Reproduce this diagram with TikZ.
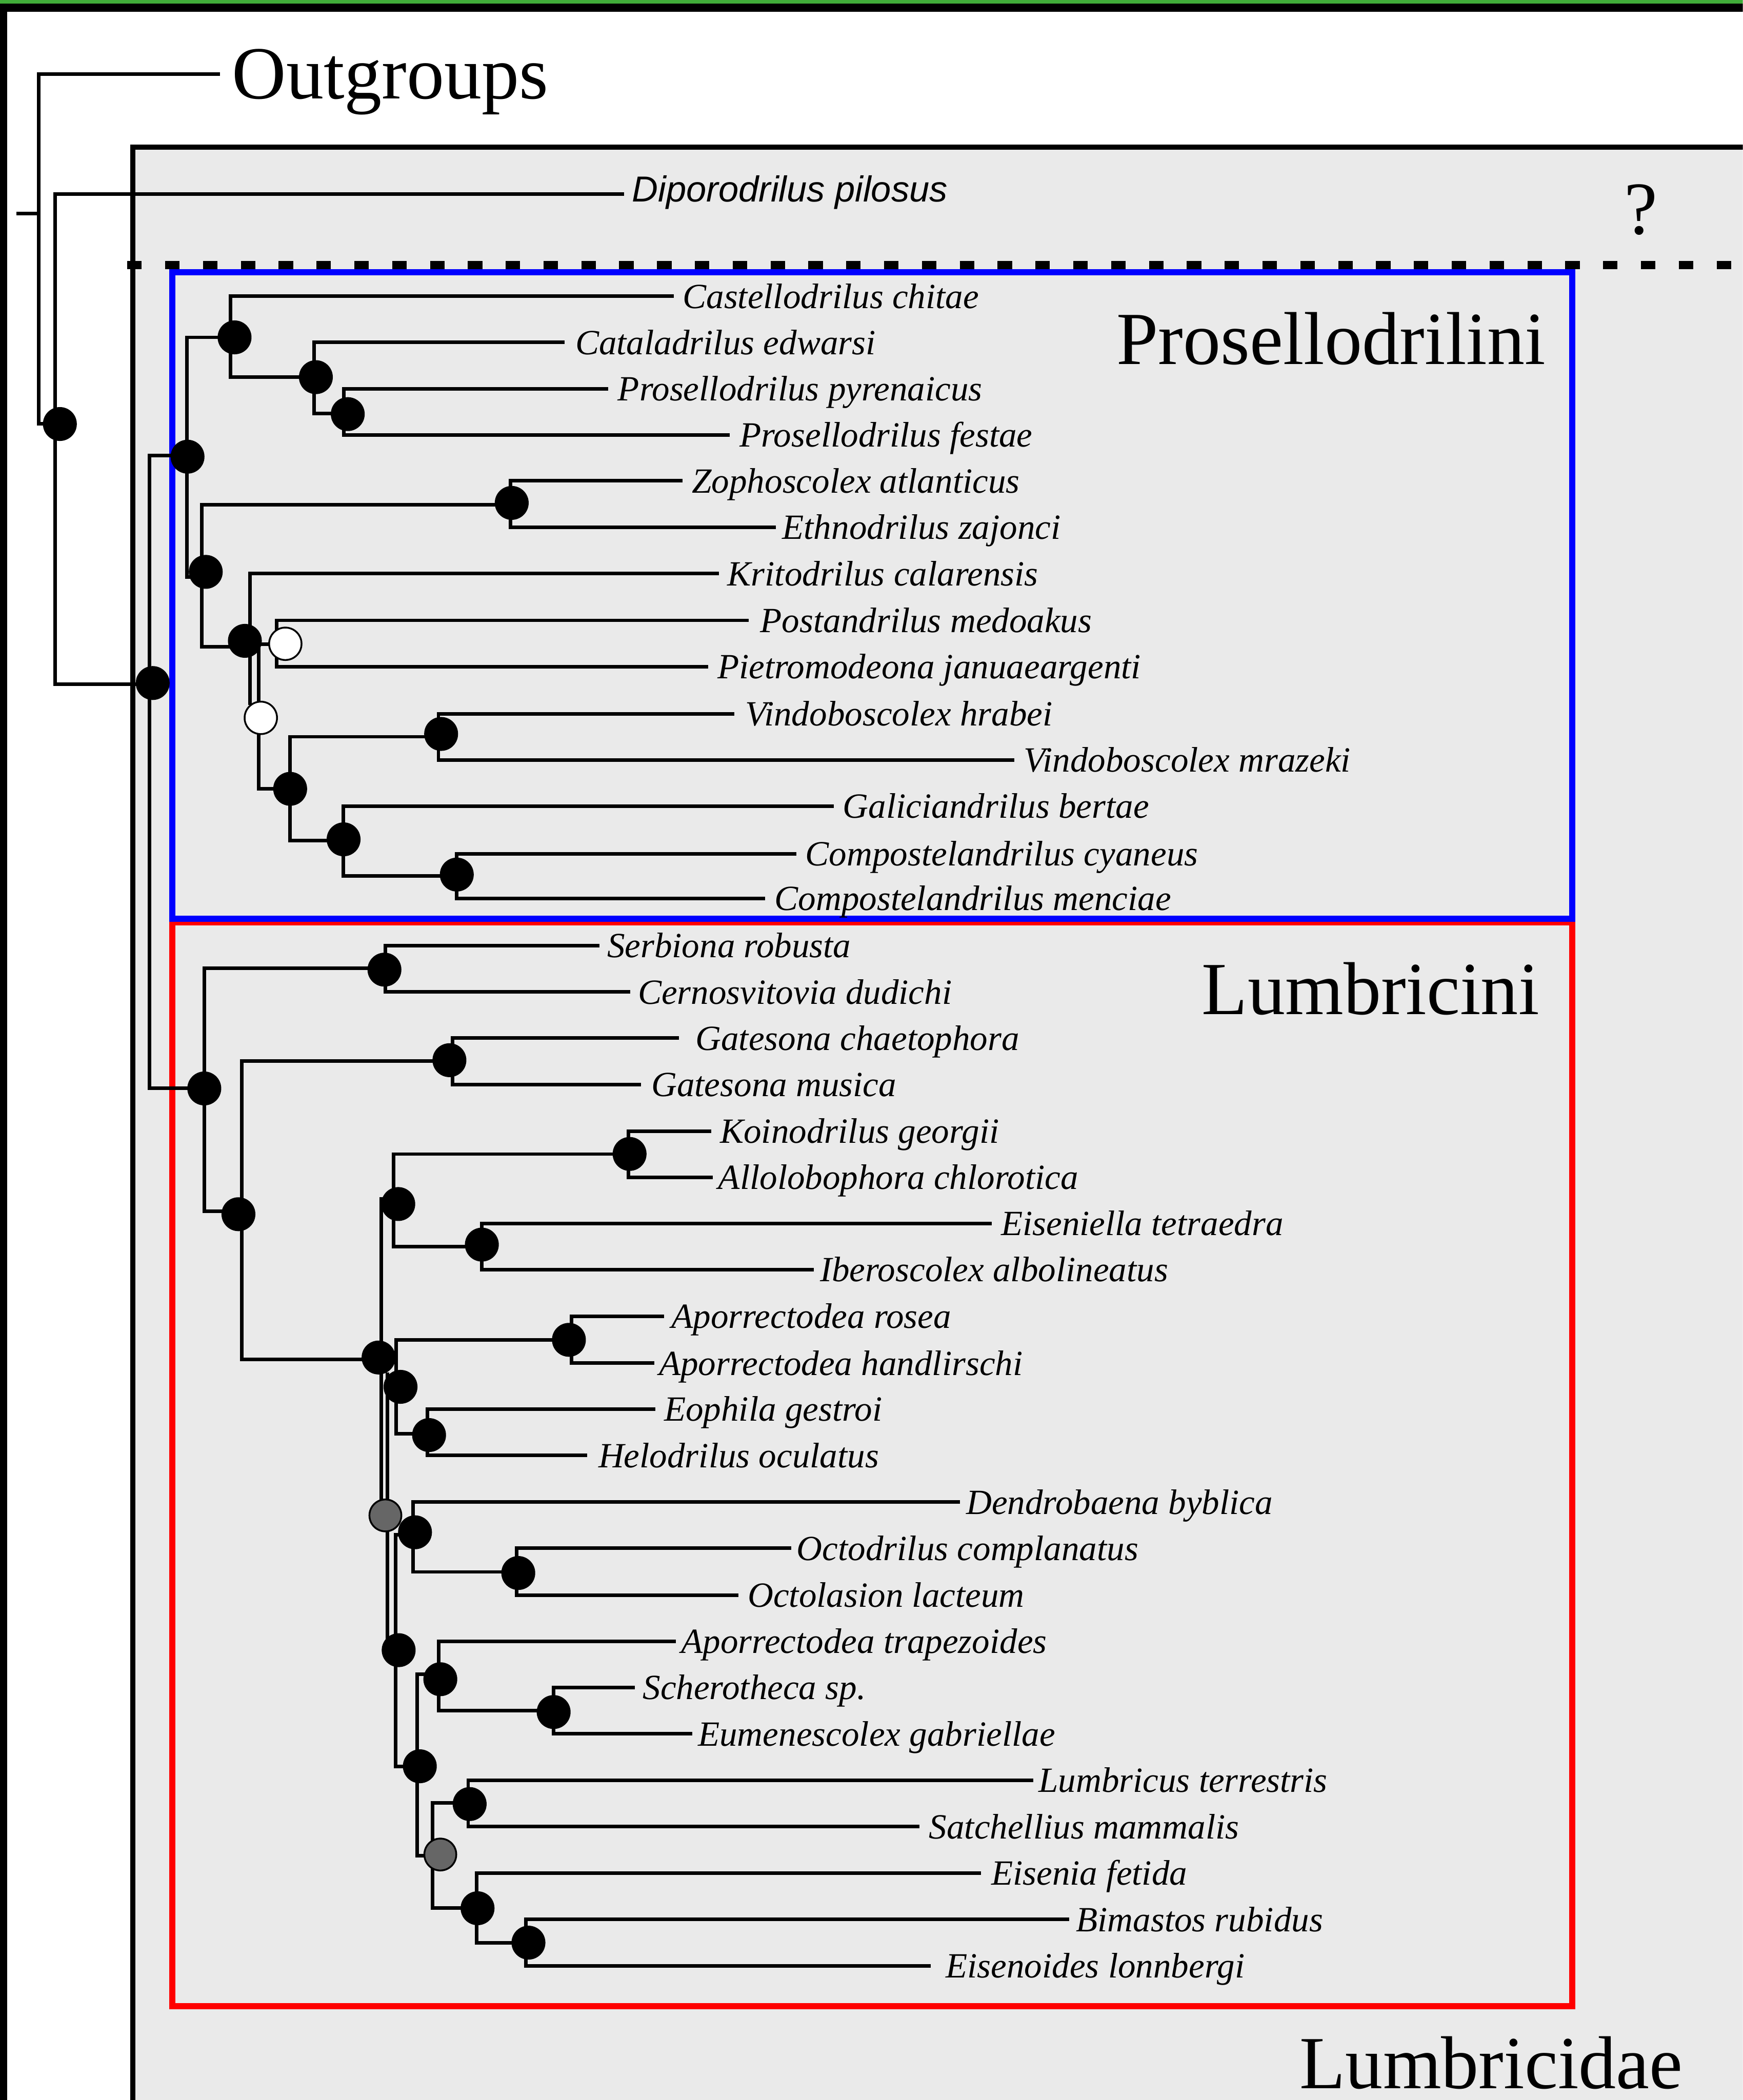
\documentclass[tikz,border=0pt]{standalone}
\usepackage{fontspec}
\setmainfont{Liberation Serif}
\newfontfamily\sansfam{Liberation Sans}
\definecolor{bgray}{RGB}{234,234,234}
\definecolor{topgreen}{RGB}{65,173,58}
\definecolor{dotgray}{RGB}{102,102,102}
\newcommand\lf[6]{%
  \coordinate (#1a) at (#2,#3);
  \coordinate (#1b) at (#4,#3);
  \draw[br] (#1a) -- (#1b);
  \node[lab] (#1) at (#5,#3+9) {#6};}
\begin{document}
\begin{tikzpicture}[x=0.026441cm,y=-0.026441cm,
  br/.style={line width=2pt,line cap=rect,line join=miter},
  dot/.style={circle,fill=black,inner sep=0pt,minimum size=0.669cm},
  wdot/.style={circle,fill=white,draw=black,line width=1pt,inner sep=0pt,minimum size=0.64cm},
  gdot/.style={circle,fill=dotgray,draw=black,line width=1pt,inner sep=0pt,minimum size=0.63cm},
  lab/.style={anchor=base west,inner sep=0pt,font=\fontsize{19.9}{24}\selectfont\itshape},
  ttl/.style={anchor=base west,inner sep=0pt,font=\fontsize{42.1}{50}\selectfont}]
\useasboundingbox (0,0) rectangle (1301,1568);
\begin{scope}
\clip (0,0) rectangle (1301,1568);
% frame
\fill[white] (0,0) rectangle (1301,1568);
\fill[black] (0,2.6) rectangle (1301,8.7);
\fill[black] (0,0) rectangle (5.2,1568);
\fill[topgreen] (0,0) rectangle (1301,2.6);
% Lumbricidae box
\fill[bgray] (99,110) rectangle (1320,1590);
\draw[line width=2.86pt] (99,1590) -- (99,110) -- (1320,110);
\draw[line width=4.5pt,dash pattern=on 0.2856cm off 0.4614cm] (95,197.8) -- (1320,197.8);
% tribe boxes
\draw[red,line width=3.55pt] (128.5,688.7) rectangle (1173.7,1498);
\draw[blue,line width=3.55pt] (128.5,203.3) rectangle (1173.7,686);

% ---------- titles
\node[ttl] (outg) at (173,73.8) {Outgroups};
\node[ttl] (pros) at (833.3,271.8) {Prosellodrilini};
\node[ttl] (lumbi) at (897,757.4) {Lumbricini};
\node[ttl] (lumbe) at (970,1559.5) {Lumbricidae};
\node[ttl,anchor=base] (qm) at (1224.8,174.8) {?};

% ---------- root and outgroups
\draw[br] (13.6,159.5) -- (28.8,159.5);
\draw[br] (28.8,55.4) -- (28.8,316.5) -- (44.7,316.5);
\draw[br] (28.8,55.4) -- (163,55.4);
\draw[br] (41.2,144.9) -- (41.2,511) -- (114,511);
\draw[br] (41.2,144.9) -- (464.5,144.9);
\node[anchor=base west,inner sep=0pt,font=\sansfam\itshape\fontsize{20.3}{24}\selectfont] (dip) at (471.7,150.8) {Diporodrilus pilosus};
\draw[br] (111.6,340.2) -- (111.6,812.6);
\draw[br] (111.6,340.2) -- (140,340.2);
\draw[br] (111.6,812.6) -- (152.5,812.6);

% ---------- Prosellodrilini
\draw[br] (139.6,251.9) -- (139.6,430.8);
\draw[br] (139.6,251.9) -- (175.1,251.9);
\draw[br] (139.6,430.8) -- (153.6,430.8);
\draw[br] (172.2,221.1) -- (172.2,281.6) -- (235.8,281.6);
\lf{castel}{172.2}{221.1}{501.7}{509.4}{Castellodrilus chitae}
\draw[br] (234.4,255.6) -- (234.4,308.8) -- (259.6,308.8);
\lf{catal}{234.4}{255.6}{420}{429.3}{Cataladrilus edwarsi}
\draw[br] (256.7,290.3) -- (256.7,324.7);
\lf{prpyr}{256.7}{290.3}{452.6}{461}{Prosellodrilus pyrenaicus}
\lf{prfes}{256.7}{324.7}{543.4}{551.9}{Prosellodrilus festae}
\draw[br] (150.8,376.9) -- (150.8,483) -- (182.8,483);
\draw[br] (150.8,376.9) -- (382,376.9);
\draw[br] (381,359) -- (381,393.6);
\lf{zoph}{381}{359}{508}{516.3}{Zophoscolex atlanticus}
\lf{ethn}{381}{393.6}{578}{583.7}{Ethnodrilus zajonci}
\draw[br] (186.5,428.3) -- (186.5,525);
\lf{krit}{186.5}{428.3}{535.4}{542.8}{Kritodrilus calarensis}
\draw[br] (193,480.9) -- (193,589.1) -- (216.6,589.1);
\draw[br] (193,480.9) -- (213,480.9);
\draw[br] (206.7,463.2) -- (206.7,497.8);
\lf{posta}{206.7}{463.2}{557.5}{567.3}{Postandrilus medoakus}
\lf{pietr}{206.7}{497.8}{527.5}{535.4}{Pietromodeona januaeargenti}
\draw[br] (216.6,550.1) -- (216.6,627.6) -- (256.5,627.6);
\draw[br] (216.6,550.1) -- (329.3,550.1);
\draw[br] (327.3,532.9) -- (327.3,567.4);
\lf{vhra}{327.3}{532.9}{547}{556}{Vindoboscolex hrabei}
\lf{vmra}{327.3}{567.4}{756}{764}{Vindoboscolex mrazeki}
\draw[br] (256.4,601.9) -- (256.4,654.1) -- (341,654.1);
\lf{galic}{256.4}{601.9}{621}{629}{Galiciandrilus bertae}
\draw[br] (340.9,637.4) -- (340.9,670.8);
\lf{ccya}{340.9}{637.4}{593}{601}{Compostelandrilus cyaneus}
\lf{cmen}{340.9}{670.8}{570}{578}{Compostelandrilus menciae}

% ---------- Lumbricini
\draw[br] (152.7,722.8) -- (152.7,904.4) -- (178,904.4);
\draw[br] (152.7,722.8) -- (287,722.8);
\draw[br] (287.8,706) -- (287.8,740.7);
\lf{serb}{287.8}{706}{446}{453}{Serbiona robusta}
\lf{cern}{287.8}{740.7}{469}{476}{Cernosvitovia dudichi}
\draw[br] (180.6,792.2) -- (180.6,1015) -- (282.6,1015);
\draw[br] (180.6,792.2) -- (335.5,792.2);
\draw[br] (337.7,775) -- (337.7,809.7);
\lf{gcha}{337.7}{775}{505.6}{519}{Gatesona chaetophora}
\lf{gmus}{337.7}{809.7}{477}{486}{Gatesona musica}
\draw[br] (284.6,1131) -- (284.6,895) -- (297.3,895);
\draw[br] (293.9,861.7) -- (293.9,930.7) -- (359.7,930.7);
\draw[br] (293.9,861.7) -- (470,861.7);
\draw[br] (469,844.6) -- (469,879);
\lf{koin}{469}{844.6}{529.5}{537.3}{Koinodrilus georgii}
\lf{allo}{469}{879}{530.6}{536}{Allolobophora chlorotica}
\draw[br] (359.7,913.5) -- (359.7,948);
\lf{eisl}{359.7}{913.5}{739}{747}{Eiseniella tetraedra}
\lf{iber}{359.7}{948}{606}{612}{Iberoscolex albolineatus}
\draw[br] (289.3,1026) -- (289.3,1232);
\draw[br] (295.8,1000.4) -- (295.8,1070.5) -- (320.3,1070.5);
\draw[br] (295.8,1000.4) -- (424.7,1000.4);
\draw[br] (426.6,982.7) -- (426.6,1017.7);
\lf{aros}{426.6}{982.7}{494.5}{501}{Aporrectodea rosea}
\lf{ahan}{426.6}{1017.7}{487}{491.7}{Aporrectodea handlirschi}
\draw[br] (319,1052) -- (319,1086.7);
\lf{eoph}{319}{1052}{488}{495.5}{Eophila gestroi}
\lf{helo}{319}{1086.7}{437}{446.5}{Helodrilus oculatus}
\draw[br] (295.3,1146) -- (295.3,1318.8) -- (313.4,1318.8);
\draw[br] (295.3,1146) -- (309.8,1146);
\draw[br] (308.5,1121.5) -- (308.5,1173.7) -- (386.9,1173.7);
\lf{dend}{308.5}{1121.5}{715.4}{721}{Dendrobaena byblica}
\draw[br] (385.8,1156) -- (385.8,1191);
\lf{ocom}{385.8}{1156}{589.3}{594.6}{Octodrilus complanatus}
\lf{olac}{385.8}{1191}{550}{558}{Octolasion lacteum}
\draw[br] (311.5,1250) -- (311.5,1385.5) -- (328.7,1385.5);
\draw[br] (311.5,1250) -- (328.7,1250);
\draw[br] (327.5,1225.5) -- (327.5,1277.3) -- (413.3,1277.3);
\lf{atra}{327.5}{1225.5}{503.4}{508.3}{Aporrectodea trapezoides}
\draw[br] (413.3,1260) -- (413.3,1294.5);
\lf{sche}{413.3}{1260}{472.4}{479.6}{Scherotheca sp.}
\lf{eume}{413.3}{1294.5}{515.5}{520.8}{Eumenescolex gabriellae}
\draw[br] (323,1346) -- (323,1424.7) -- (356.5,1424.7);
\draw[br] (323,1346) -- (350.6,1346);
\draw[br] (349.5,1329.2) -- (349.5,1363.8);
\lf{lumt}{349.5}{1329.2}{770}{775}{Lumbricus terrestris}
\lf{satc}{349.5}{1363.8}{684.9}{693.3}{Satchellius mammalis}
\draw[br] (355.7,1398.5) -- (355.7,1450.5) -- (394.5,1450.5);
\lf{eisf}{355.7}{1398.5}{731}{739.8}{Eisenia fetida}
\draw[br] (392.6,1433.2) -- (392.6,1467.8);
\lf{bima}{392.6}{1433.2}{796.8}{803}{Bimastos rubidus}
\lf{eisn}{392.6}{1467.8}{693.3}{705.8}{Eisenoides lonnbergi}

% ---------- support circles
\node[dot] (N1) at (44.7,316.6) {};
\node[dot] (N2) at (114,510) {};
\node[dot] (P0) at (140,341) {};
\node[dot] (P1) at (175.1,251.9) {};
\node[dot] (P3) at (235.8,281.6) {};
\node[dot] (P4) at (259.6,309.2) {};
\node[dot] (P2) at (153.6,427) {};
\node[dot] (P5) at (382,375.5) {};
\node[dot] (P6) at (182.8,478.5) {};
\node[wdot] (P7) at (213,480.7) {};
\node[wdot] (P8) at (194.7,536) {};
\node[dot] (P9) at (216.6,589) {};
\node[dot] (P10) at (329.3,548) {};
\node[dot] (P11) at (256.5,626.7) {};
\node[dot] (P12) at (341,653) {};
\node[dot] (L0) at (152.5,812.7) {};
\node[dot] (L1) at (287,724) {};
\node[dot] (L2) at (178,906.6) {};
\node[dot] (L3) at (335.5,791.6) {};
\node[dot] (L4) at (282.6,1013.6) {};
\node[dot] (L5) at (297.3,899) {};
\node[dot] (L6) at (470,861.6) {};
\node[dot] (L7) at (359.7,929.3) {};
\node[dot] (L8) at (299,1035.5) {};
\node[dot] (L9) at (424.7,1000.4) {};
\node[dot] (L10) at (320.3,1071.5) {};
\node[gdot] (G1) at (287.7,1131.5) {};
\node[dot] (L11) at (309.8,1144.1) {};
\node[dot] (L12) at (386.9,1174.5) {};
\node[dot] (L13) at (297.6,1232.1) {};
\node[dot] (L16) at (313.4,1318.8) {};
\node[dot] (L14) at (328.7,1253.8) {};
\node[dot] (L15) at (413.3,1278.3) {};
\node[gdot] (G2) at (328.7,1384.7) {};
\node[dot] (L17) at (350.6,1347) {};
\node[dot] (L18) at (356.5,1424.8) {};
\node[dot] (L19) at (394.5,1450.5) {};
\end{scope}
\end{tikzpicture}
\end{document}
